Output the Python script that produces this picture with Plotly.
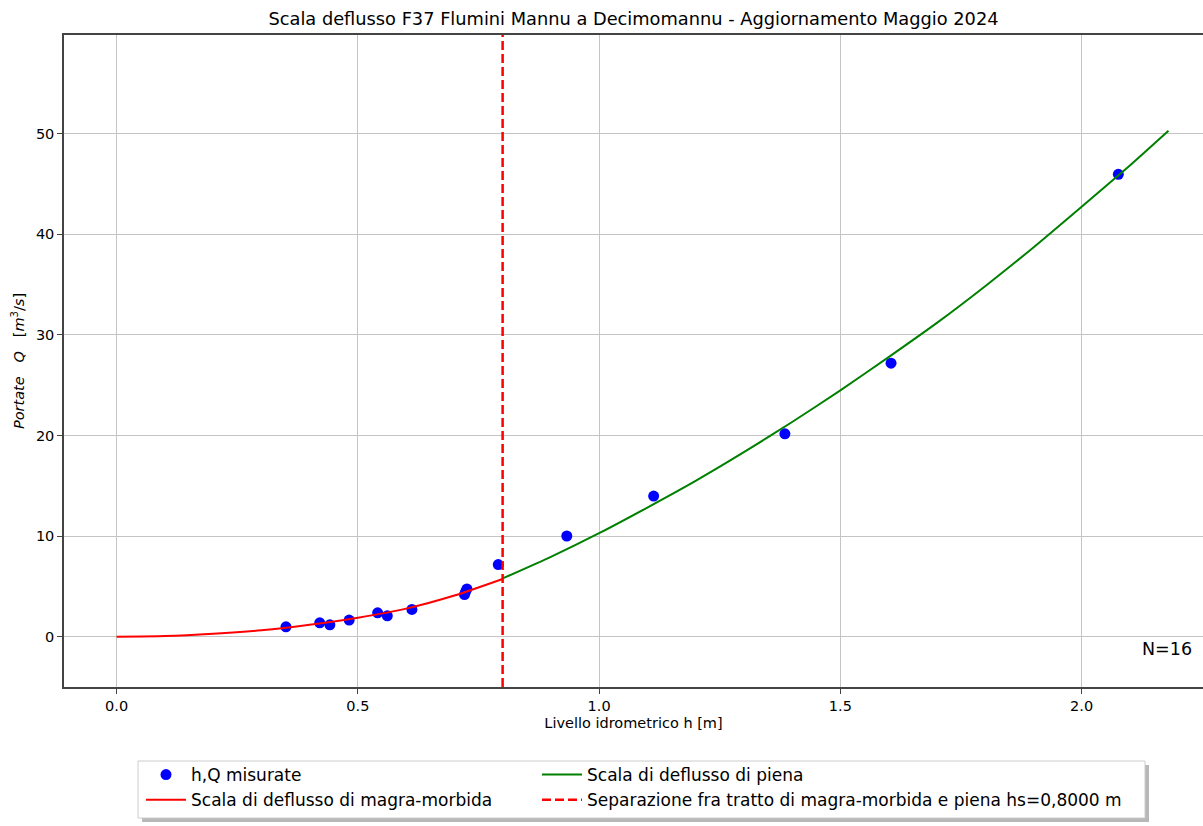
import plotly.graph_objects as go

# measured points
h_mis = [0.351, 0.421, 0.442, 0.482, 0.541, 0.561, 0.612, 0.721, 0.723, 0.726, 0.791, 0.933, 1.113, 1.385, 1.605, 2.076]
q_mis = [0.99, 1.39, 1.19, 1.66, 2.38, 2.08, 2.72, 4.20, 4.45, 4.76, 7.18, 10.02, 13.99, 20.18, 27.20, 45.97]

# low-flow rating curve
h_magra = [0.0, 0.1, 0.2, 0.3, 0.4, 0.5, 0.6, 0.7, 0.8]
q_magra = [0.0, 0.07, 0.30, 0.65, 1.20, 1.90, 2.80, 4.10, 5.75]

# high-flow rating curve
h_piena = [0.80, 0.90, 1.00, 1.10, 1.20, 1.30, 1.40, 1.50, 1.60, 1.70, 1.80, 1.90, 2.00, 2.10, 2.18]
q_piena = [5.8, 7.95, 10.3, 12.85, 15.5, 18.35, 21.35, 24.5, 27.8, 31.2, 34.85, 38.7, 42.75, 46.85, 50.3]

hs = 0.8
vline_y = [-5, 60]

x_ticks = [0.0, 0.5, 1.0, 1.5, 2.0]
y_ticks = [0, 10, 20, 30, 40, 50]

FONT = "DejaVu Sans"

fig = go.Figure()
fig.add_trace(go.Scatter(x=h_mis, y=q_mis, mode="markers", name="h,Q misurate",
                         marker=dict(color="#0000ff", size=11), legend="legend"))
fig.add_trace(go.Scatter(x=h_magra, y=q_magra, mode="lines", name="Scala di deflusso di magra-morbida",
                         line=dict(color="#ff0000", width=2, shape="spline", smoothing=0.6),
                         legend="legend"))
fig.add_trace(go.Scatter(x=h_piena, y=q_piena, mode="lines", name="Scala di deflusso di piena",
                         line=dict(color="#008000", width=2, shape="spline", smoothing=0.6),
                         legend="legend2"))
fig.add_trace(go.Scatter(x=[hs, hs], y=vline_y, mode="lines",
                         name="Separazione fra tratto di magra-morbida e piena hs=0,8000 m",
                         line=dict(color="#ff0000", width=2.5, dash="9px,4px"), legend="legend2"))

# body margin is removed by post_script, so screenshot px = figure px
W, H = 1203, 826
L, R, T = 64, 0, 35
B = H - 687
pw = W - L - R
ph = H - T - B


def px2paper_x(px):
    return (px - L) / pw


def px2paper_y(py):
    return (H - B - py) / ph


shapes = [
    # legend shadow
    dict(type="rect", xref="paper", yref="paper",
         x0=px2paper_x(142), x1=px2paper_x(1149), y0=px2paper_y(822), y1=px2paper_y(765),
         fillcolor="#b8b8b8", line=dict(width=0), layer="below"),
    # legend frame
    dict(type="rect", xref="paper", yref="paper",
         x0=px2paper_x(138), x1=px2paper_x(1145), y0=px2paper_y(818), y1=px2paper_y(761),
         fillcolor="white", line=dict(color="#cccccc", width=1), layer="below"),
]

leg_common = dict(orientation="v", xanchor="left", yanchor="top", itemwidth=40,
                  bgcolor="rgba(0,0,0,0)", borderwidth=0,
                  font=dict(family=FONT, size=17, color="black"), traceorder="normal")

fig.update_layout(
    width=W, height=H,
    margin=dict(l=L, r=R, t=T, b=B),
    paper_bgcolor="white", plot_bgcolor="white",
    font=dict(family=FONT, size=14.5, color="black"),
    title=dict(text="Scala deflusso F37 Flumini Mannu a Decimomannu - Aggiornamento Maggio 2024",
               x=0.5, xref="paper", xanchor="center",
               y=1 - 19 / H, yref="container", yanchor="middle",
               font=dict(family=FONT, size=17.8, color="black")),
    xaxis=dict(range=[-0.109, 2.2515], tickvals=x_ticks, tickformat=".1f",
               showgrid=True, gridcolor="#c4c4c4", gridwidth=1.3,
               zeroline=False, showline=True, linecolor="#444444", linewidth=1.5, mirror=True,
               ticks="outside", ticklen=5, tickcolor="#444444",
               title=dict(text="Livello idrometrico h [m]", font=dict(size=14.5), standoff=5)),
    yaxis=dict(range=[-4.99, 59.82], tickvals=y_ticks,
               showgrid=True, gridcolor="#c4c4c4", gridwidth=1.3,
               zeroline=False, showline=True, linecolor="#444444", linewidth=1.5, mirror=False,
               ticks="outside", ticklen=5, tickcolor="#444444",
               title=dict(text="<i>Portate</i>   <i>Q</i>   [<i>m</i><sup>3</sup>/<i>s</i>]",
                          font=dict(size=14.5), standoff=8)),
    showlegend=True,
    legend=dict(x=px2paper_x(141), y=px2paper_y(757), **leg_common),
    legend2=dict(x=px2paper_x(537), y=px2paper_y(757), **leg_common),
    shapes=shapes,
    annotations=[dict(text="N=16", xref="paper", yref="paper",
                      x=px2paper_x(1194), y=px2paper_y(649), xanchor="right", yanchor="middle",
                      showarrow=False, font=dict(family=FONT, size=17.5, color="black"))],
)

fig.write_html("out.html", config={"displayModeBar": False},
               post_script="document.body.style.margin='0';document.body.style.overflow='hidden';")
